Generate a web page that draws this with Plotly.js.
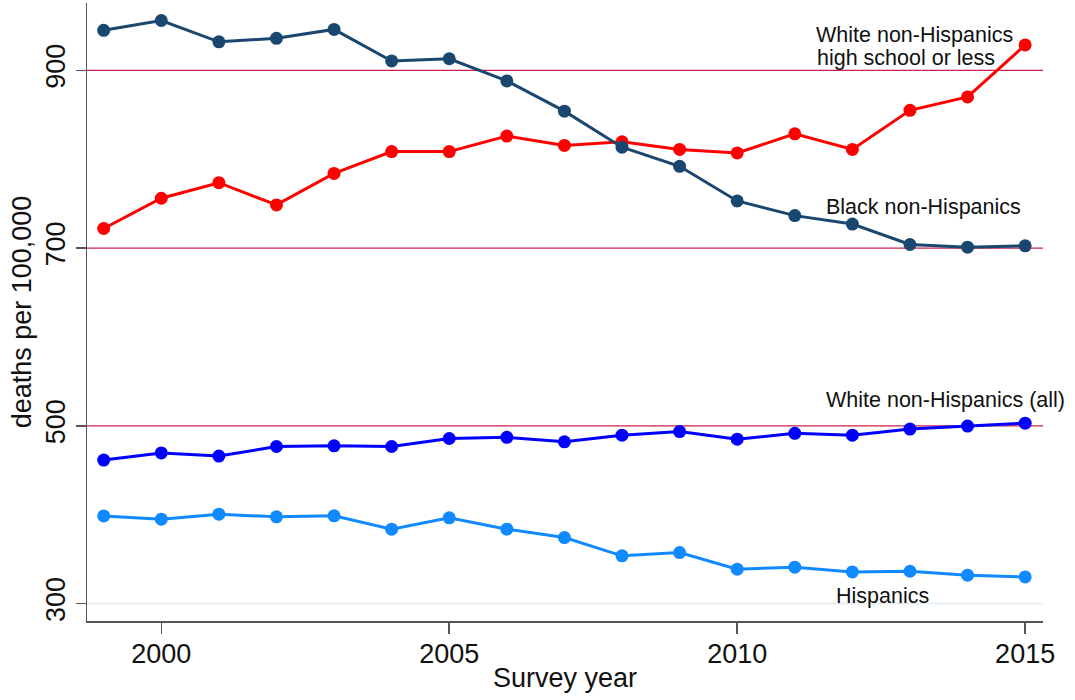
<!DOCTYPE html>
<html>
<head>
<meta charset="utf-8">
<script src="https://cdn.plot.ly/plotly-3.0.1.min.js"></script>
<style>
html,body{margin:0;padding:0;background:#fff;}
#chart{width:1075px;height:700px;}
</style>
</head>
<body>
<div id="chart"></div>
<script>
var years = [1999,2000,2001,2002,2003,2004,2005,2006,2007,2008,2009,2010,2011,2012,2013,2014,2015];
var blackNonHisp = [945,956,932,936,946,910.5,913,888,854,813.5,792,753,736.5,727,704,701,702.5];
var whiteHSorLess = [722,756,773.5,748.5,784,808.5,808.5,826,815.5,819.5,811,807,828.5,811,855,870,928.5];
var whiteAll = [461.5,469.5,466,476.7,477.5,476.7,485.7,487,482,489.5,493.5,485,491.5,489.5,496.3,499.7,503];
var hispanics = [398.6,395,400.6,397.6,398.7,383.7,396.5,383.7,374.3,353.7,357.4,338.7,341,335.6,336.4,332,330];

var yTicks = [300,500,700,900];
var xTicks = [2000,2005,2010,2015];
var refLines = [500,700,900];
var baseLine = 300;

var labels = [
  {text:'White non-Hispanics', x:2011.33, y:939.5, anchor:'left'},
  {text:'high school or less', x:2011.35, y:913.5, anchor:'left'},
  {text:'Black non-Hispanics', x:2013.24, y:746, anchor:'center'},
  {text:'White non-Hispanics (all)', x:2013.61, y:529, anchor:'center'},
  {text:'Hispanics', x:2012.52, y:308.3, anchor:'center'}
];

function series(y, color) {
  return {
    x: years, y: y, type: 'scatter', mode: 'lines+markers',
    line: {color: color, width: 3},
    marker: {color: color, size: 13},
    showlegend: false, hoverinfo: 'skip'
  };
}

var data = [
  series(hispanics, '#1189ff'),
  series(whiteAll, '#0000ff'),
  series(whiteHSorLess, '#ff0000'),
  series(blackNonHisp, '#1a476f')
];

var shapes = refLines.map(function(v){
  return {type:'line', xref:'paper', x0:0, x1:1, yref:'y', y0:v, y1:v,
          line:{color:'#cc1f4e', width:1.2}, layer:'below'};
});
shapes.push({type:'line', xref:'paper', x0:0, x1:1, yref:'y', y0:baseLine, y1:baseLine,
             line:{color:'#e7eff3', width:2}, layer:'below'});

var annotations = labels.map(function(l){
  return {text:l.text, x:l.x, y:l.y, xref:'x', yref:'y', showarrow:false,
          xanchor:l.anchor, yanchor:'middle',
          font:{family:'Liberation Sans, Arial, sans-serif', size:21.5, color:'#111'}};
});

var layout = {
  width: 1075, height: 700,
  margin: {l:87, r:32, t:3, b:79, pad:0},
  paper_bgcolor: '#fff', plot_bgcolor: '#fff',
  font: {family:'Liberation Sans, Arial, sans-serif', color:'#111'},
  xaxis: {
    range: [1998.71, 2015.31], tickvals: xTicks, ticktext: xTicks.map(String),
    showgrid:false, zeroline:false, showline:true, linecolor:'#555', linewidth:1.5,
    ticks:'outside', ticklen:11, tickcolor:'#555', tickwidth:1.5,
    ticklabelstandoff:-3,
    tickfont:{size:27, color:'#111'},
    title:{text:'Survey year', font:{size:27, color:'#111'}, standoff:0}
  },
  yaxis: {
    range: [280.4, 975.7], tickvals: yTicks, ticktext: yTicks.map(String),
    showgrid:false, zeroline:false, showline:true, linecolor:'#555', linewidth:1.5,
    ticks:'outside', ticklen:10, tickcolor:'#555', tickwidth:1.5,
    tickangle:-90,
    tickfont:{size:27, color:'#111'},
    title:{text:'deaths per 100,000', font:{size:27, color:'#111'}, standoff:1}
  },
  shapes: shapes,
  annotations: annotations
};

Plotly.newPlot('chart', data, layout, {displayModeBar:false, staticPlot:true});
</script>
</body>
</html>
